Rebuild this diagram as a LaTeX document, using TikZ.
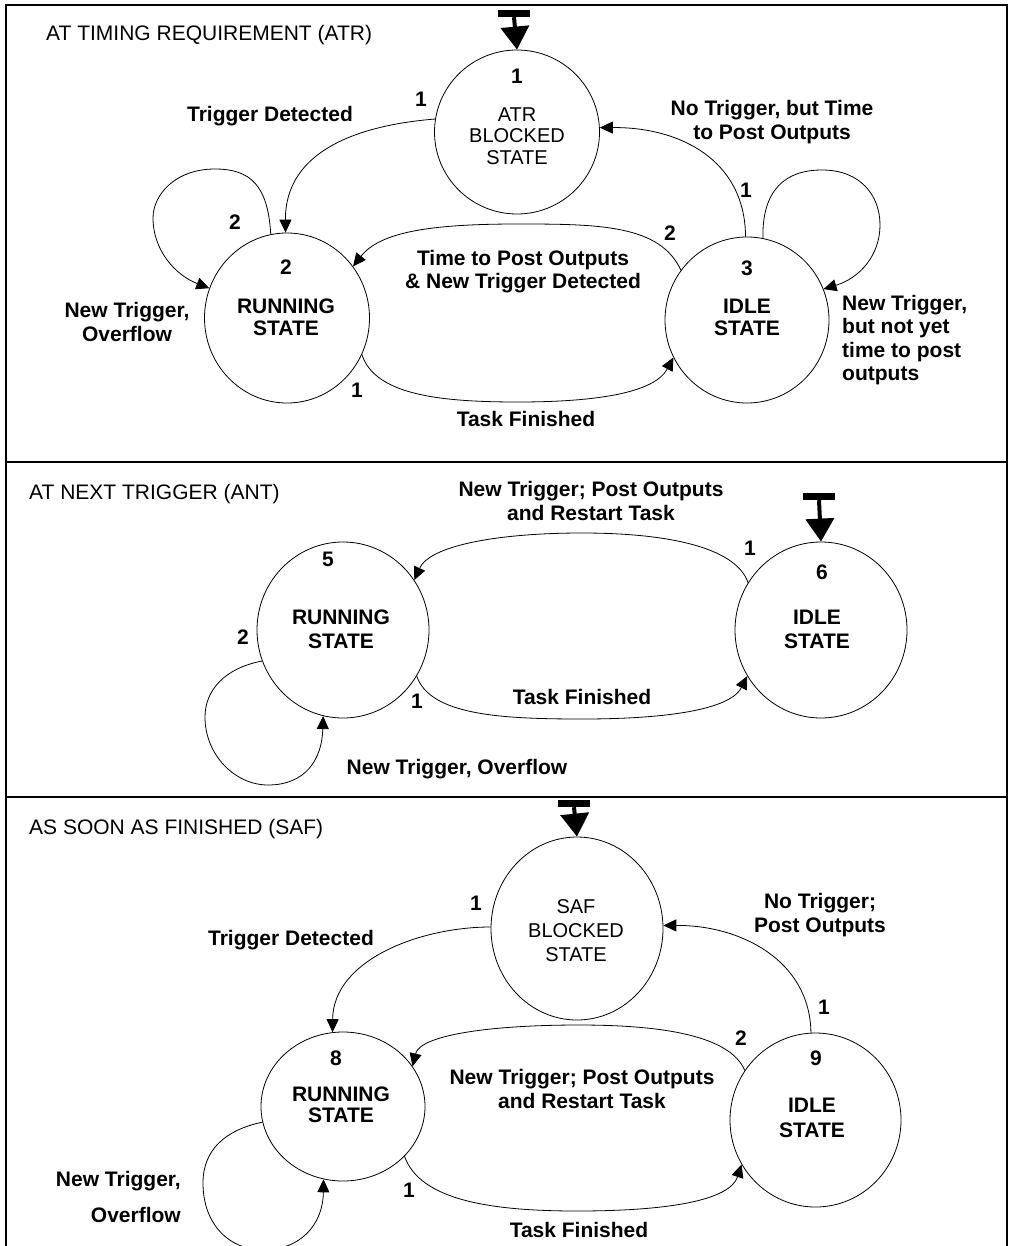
\documentclass[tikz,border=0pt]{standalone}
\usepackage{fontspec}
\setmainfont{Liberation Sans}
\usetikzlibrary{arrows.meta,shapes.geometric}

\begin{document}
\begin{tikzpicture}[x=1pt,y=-1pt,
  stnode/.style={draw,ellipse,line width=0.8pt,inner sep=0pt},
  lbl/.style={font=\fontsize{21}{23.5}\selectfont\bfseries,inner sep=0pt,align=center},
  sname/.style={font=\fontsize{20}{21.5}\selectfont,inner sep=0pt,align=center},
  ttl/.style={font=\fontsize{21}{24}\selectfont,inner sep=0pt,anchor=west},
  trans/.style={line width=0.8pt,-{Triangle[width=12pt,length=13pt]}},
  startbar/.style={fill=black,minimum width=32pt,minimum height=7pt,inner sep=0pt},
  startarrow/.style={line width=4pt,-{Triangle[width=28pt,length=23pt]}},
  framel/.style={line width=1.6pt}
]
\fill[white] (0,0) rectangle (1009,1246);
\useasboundingbox (0,0) rectangle (1009,1246);

% panel frame and separators
\draw[framel] (6,1250) -- (6,5) -- (1007,5) -- (1007,1250);
\draw[framel] (6,462) -- (1007,462);
\draw[framel] (6,797) -- (1007,797);

% ---------------- AT TIMING REQUIREMENT ----------------
\node[ttl] (t1) at (46,35) {AT TIMING REQUIREMENT (ATR)};

\node[stnode,minimum width=165pt,minimum height=164pt] (n1) at (517,132) {};
\node[stnode,minimum width=165pt,minimum height=170pt] (n2) at (287,318) {};
\node[stnode,minimum width=164pt,minimum height=166pt] (n3) at (747,320) {};

\node[lbl] (n1num) at (517,76) {1};
\node[sname] (n1txt) at (517,136) {ATR\\BLOCKED\\STATE};
\node[lbl] (n2num) at (286,267) {2};
\node[lbl,font=\fontsize{21}{22}\selectfont\bfseries] (n2txt) at (286,317) {RUNNING\\STATE};
\node[lbl] (n3num) at (747,268) {3};
\node[lbl,font=\fontsize{21}{22}\selectfont\bfseries] (n3txt) at (747,317) {IDLE\\STATE};

\node[startbar] (s1) at (514,13.5) {};
\draw[startarrow] (s1.south) -- (n1.north);

% trigger detected
\draw[trans] (n1.171) .. controls (360,125) and (285,150) .. (n2.91);
% overflow self loop
\draw[trans] (n2.101) .. controls (268,185) and (250,169) .. (215,169)
  .. controls (175,169) and (153,195) .. (153,218)
  .. controls (153,250) and (175,275) .. (n2.159);
% post outputs with a new trigger
\draw[trans] (n3.143) .. controls (660,225) and (600,224) .. (518,224)
  .. controls (430,224) and (380,232) .. (n2.38);
% no trigger, time to post
\draw[trans] (n3.91) .. controls (745,160) and (680,127) .. (n1.3);
% new trigger, not yet time
\draw[trans] (n3.79) .. controls (762,190) and (785,170) .. (822,170)
  .. controls (860,170) and (880,195) .. (880,225)
  .. controls (880,255) and (860,278) .. (n3.22);
% task finished
\draw[trans] (n2.-26) .. controls (375,395) and (440,402) .. (518,402)
  .. controls (600,402) and (655,392) .. (n3.207);

\node[lbl] (l1a) at (421,99) {1};
\node[lbl] (trig1) at (270,116) {Trigger Detected};
\node[lbl] (l2a) at (235,222) {2};
\node[lbl] (ovf1) at (127,322) {New Trigger,\\Overflow};
\node[lbl] (nt1) at (772,122) {No Trigger, but Time\\to Post Outputs};
\node[lbl] (l1b) at (746,190) {1};
\node[lbl] (l2b) at (670,233) {2};
\node[lbl] (tp1) at (523,271.5) {Time to Post Outputs\\\& New Trigger Detected};
\node[lbl,align=left,anchor=west] (nty) at (842,340) {New Trigger,\\but not yet\\time to post\\outputs};
\node[lbl] (l1c) at (357,390) {1};
\node[lbl] (tf1) at (526,419) {Task Finished};

% ---------------- AT NEXT TRIGGER ----------------
\node[ttl] (t2) at (29,494) {AT NEXT TRIGGER (ANT)};

\node[stnode,minimum width=172pt,minimum height=176pt] (n5) at (343,630) {};
\node[stnode,minimum width=172pt,minimum height=176pt] (n6) at (821,630) {};

\node[lbl] (n5num) at (328,559) {5};
\node[lbl,font=\fontsize{21}{24}\selectfont\bfseries] (n5txt) at (341,629) {RUNNING\\STATE};
\node[lbl] (n6num) at (822,572) {6};
\node[lbl,font=\fontsize{21}{24}\selectfont\bfseries] (n6txt) at (817,629) {IDLE\\STATE};

\node[startbar] (s2) at (819,496.5) {};
\draw[startarrow] (s2.south) -- (n6.north);

\draw[trans] (n6.147) .. controls (735,545) and (660,533) .. (582,533)
  .. controls (500,533) and (430,545) .. (n5.35);
\draw[trans] (n5.-32) .. controls (430,715) and (500,719) .. (582,719)
  .. controls (665,719) and (730,710) .. (n6.212);
\draw[trans] (n5.201) .. controls (225,668) and (205,690) .. (205,717)
  .. controls (205,755) and (235,785) .. (268,785)
  .. controls (305,785) and (322,760) .. (n5.257);

\node[lbl] (nt2) at (591,501) {New Trigger; Post Outputs\\and Restart Task};
\node[lbl] (l1d) at (750,548) {1};
\node[lbl] (l2c) at (243,637) {2};
\node[lbl] (l1e) at (417,701) {1};
\node[lbl] (tf2) at (582,697) {Task Finished};
\node[lbl] (ovf2) at (457,769) {New Trigger, Overflow};

% ---------------- AS SOON AS FINISHED ----------------
\node[ttl] (t3) at (29,829) {AS SOON AS FINISHED (SAF)};

\node[stnode,minimum width=172pt,minimum height=183pt] (nS) at (577,928.5) {};
\node[stnode,minimum width=164pt,minimum height=149pt] (n8) at (343,1106.5) {};
\node[stnode,minimum width=171pt,minimum height=174pt] (n9) at (815.5,1120) {};

\node[sname,font=\fontsize{20}{24}\selectfont] (nStxt) at (576,931) {SAF\\BLOCKED\\STATE};
\node[lbl] (n8num) at (336,1058) {8};
\node[lbl,font=\fontsize{21}{21}\selectfont\bfseries] (n8txt) at (341,1105) {RUNNING\\STATE};
\node[lbl] (n9num) at (816,1058) {9};
\node[lbl,font=\fontsize{21}{25}\selectfont\bfseries] (n9txt) at (812,1118) {IDLE\\STATE};

\node[startbar] (s3) at (574,803.5) {};
\draw[startarrow] (s3.south) -- (nS.north);

\draw[trans] (nS.179) .. controls (420,927) and (333,960) .. (n8.98);
\draw[trans] (n9.93) .. controls (810,960) and (740,925) .. (nS.2);
\draw[trans] (n9.145) .. controls (730,1035) and (660,1025) .. (579,1025)
  .. controls (490,1025) and (420,1035) .. (n8.30);
\draw[trans] (n8.-39) .. controls (420,1200) and (490,1211) .. (577,1211)
  .. controls (670,1211) and (730,1200) .. (n9.211);
\draw[trans] (n8.191) .. controls (225,1130) and (203,1150) .. (203,1183)
  .. controls (203,1225) and (230,1250) .. (263,1250)
  .. controls (300,1250) and (323,1225) .. (n8.255);

\node[lbl] (l1f) at (476,903) {1};
\node[lbl] (trig3) at (291,940) {Trigger Detected};
\node[lbl] (nt3) at (820,915) {No Trigger;\\Post Outputs};
\node[lbl] (l1g) at (824,1007) {1};
\node[lbl] (l2d) at (741,1038) {2};
\node[lbl] (nt4) at (582,1089) {New Trigger; Post Outputs\\and Restart Task};
\node[lbl] (l1h) at (409,1190) {1};
\node[lbl] (tf3) at (579,1230) {Task Finished};
\node[lbl,align=right,anchor=east] (ovf3) at (181,1197) {New Trigger,\\[12.5pt]Overflow};
\end{tikzpicture}
\end{document}
